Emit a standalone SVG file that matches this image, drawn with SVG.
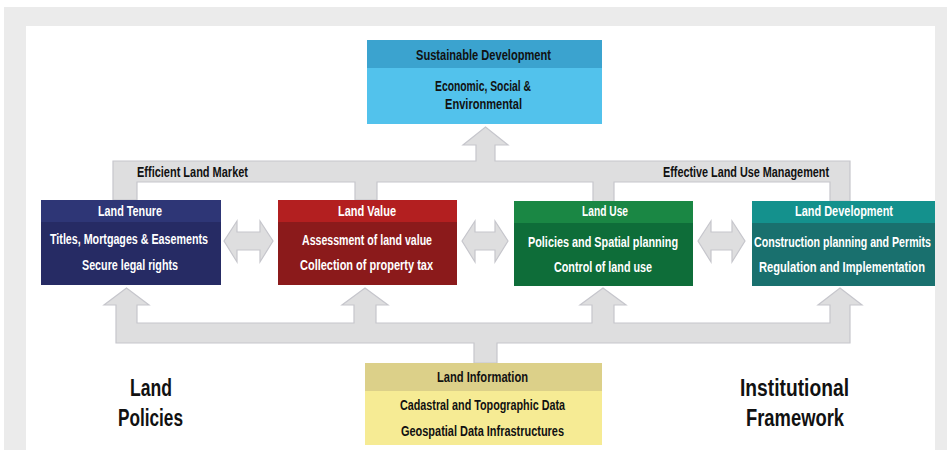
<svg xmlns="http://www.w3.org/2000/svg" width="947" height="450" viewBox="0 0 947 450">
<style>
  text { font-family: "Liberation Sans", Arial, sans-serif; font-weight: bold; }
  .w { fill: #ffffff; font-size: 14px; }
  .k { fill: #111111; font-size: 14px; }
  .big { fill: #111111; font-size: 23px; }
  .conn { fill: #dededf; stroke: #c6c6cc; stroke-width: 1.2; stroke-linejoin: miter; }
</style>
<rect x="0" y="0" width="947" height="450" fill="#ffffff"/>
<rect x="4" y="7" width="943" height="443" fill="#ebebeb"/>
<rect x="26" y="26" width="909" height="424" fill="#ffffff"/>

<g id="connectors">
  <polygon class="conn" points="113,200 113,161 476,161 476,145 463,145 485.5,127 508,145 495,145 495,161 850,161 850,201 830,201 830,182 614,182 614,202 593,202 593,182 377,182 377,200 355,200 355,182 137,182 137,200"/>
  <polygon class="conn" points="116,343 116,305 104,305 126.5,288 149,305 137,305 137,323 354,323 354,305 342,305 365,288 388,305 376,305 376,323 592,323 592,305 580,305 603,288 626,305 614,305 614,323 830,323 830,305 818,305 840,288 862,305 850,305 850,343 497,343 497,363 474,363 474,343"/>
  <polygon class="conn" points="224,241 237,221 237,232 260,232 260,221 273,241 260,262 260,250 237,250 237,262"/>
  <polygon class="conn" points="462,241 475,221 475,232 495,232 495,221 508,241 495,262 495,250 475,250 475,262"/>
  <polygon class="conn" points="698,241 711,221 711,232 732,232 732,221 745,241 732,262 732,250 711,250 711,262"/>
  <text class="k" x="137" y="177" textLength="111" lengthAdjust="spacingAndGlyphs">Efficient Land Market</text>
  <text class="k" x="663" y="177" textLength="166" lengthAdjust="spacingAndGlyphs">Effective Land Use Management</text>
</g>

<g id="sustainable-development">
  <rect x="367" y="40" width="235" height="84" fill="#52c2ec"/>
  <rect x="367" y="40" width="235" height="28" fill="#3ba3cf"/>
  <text class="k" x="416" y="60" textLength="135" lengthAdjust="spacingAndGlyphs">Sustainable Development</text>
  <text class="k" x="435" y="91" textLength="96" lengthAdjust="spacingAndGlyphs">Economic, Social &amp;</text>
  <text class="k" x="445" y="109" textLength="77" lengthAdjust="spacingAndGlyphs">Environmental</text>
</g>

<g id="land-tenure">
  <rect x="41" y="200" width="180" height="85" fill="#262b64"/>
  <rect x="41" y="200" width="180" height="22" fill="#2e3676"/>
  <text class="w" x="98" y="216" textLength="64" lengthAdjust="spacingAndGlyphs">Land Tenure</text>
  <text class="w" x="50" y="244" textLength="158" lengthAdjust="spacingAndGlyphs">Titles, Mortgages &amp; Easements</text>
  <text class="w" x="82" y="270" textLength="96" lengthAdjust="spacingAndGlyphs">Secure legal rights</text>
</g>

<g id="land-value">
  <rect x="278" y="200" width="179" height="85" fill="#8b1a1b"/>
  <rect x="278" y="200" width="179" height="22" fill="#b31f20"/>
  <text class="w" x="338" y="216" textLength="58" lengthAdjust="spacingAndGlyphs">Land Value</text>
  <text class="w" x="302" y="245" textLength="130" lengthAdjust="spacingAndGlyphs">Assessment of land value</text>
  <text class="w" x="300" y="270" textLength="133" lengthAdjust="spacingAndGlyphs">Collection of property tax</text>
</g>

<g id="land-use">
  <rect x="514" y="201" width="179" height="85" fill="#0e6d39"/>
  <rect x="514" y="201" width="179" height="22" fill="#1a8744"/>
  <text class="w" x="582" y="216" textLength="46" lengthAdjust="spacingAndGlyphs">Land Use</text>
  <text class="w" x="528" y="247" textLength="150" lengthAdjust="spacingAndGlyphs">Policies and Spatial planning</text>
  <text class="w" x="554" y="272" textLength="98" lengthAdjust="spacingAndGlyphs">Control of land use</text>
</g>

<g id="land-development">
  <rect x="752" y="201" width="183" height="85" fill="#19706e"/>
  <rect x="752" y="201" width="183" height="22" fill="#14918d"/>
  <text class="w" x="795" y="216" textLength="98" lengthAdjust="spacingAndGlyphs">Land Development</text>
  <text class="w" x="754" y="247" textLength="177" lengthAdjust="spacingAndGlyphs">Construction planning and Permits</text>
  <text class="w" x="759" y="272" textLength="166" lengthAdjust="spacingAndGlyphs">Regulation and Implementation</text>
</g>

<g id="land-information">
  <rect x="365" y="363" width="237" height="82" fill="#f6eb94"/>
  <rect x="365" y="363" width="237" height="28" fill="#dcd089"/>
  <text class="k" x="437" y="382" textLength="91" lengthAdjust="spacingAndGlyphs">Land Information</text>
  <text class="k" x="400" y="410" textLength="165" lengthAdjust="spacingAndGlyphs">Cadastral and Topographic Data</text>
  <text class="k" x="401" y="436" textLength="163" lengthAdjust="spacingAndGlyphs">Geospatial Data Infrastructures</text>
</g>

<g id="land-policies">
  <text class="big" x="130" y="396" textLength="42" lengthAdjust="spacingAndGlyphs">Land</text>
  <text class="big" x="118" y="426" textLength="65" lengthAdjust="spacingAndGlyphs">Policies</text>
</g>

<g id="institutional-framework">
  <text class="big" x="740" y="396" textLength="109" lengthAdjust="spacingAndGlyphs">Institutional</text>
  <text class="big" x="746" y="426" textLength="98" lengthAdjust="spacingAndGlyphs">Framework</text>
</g>
</svg>
